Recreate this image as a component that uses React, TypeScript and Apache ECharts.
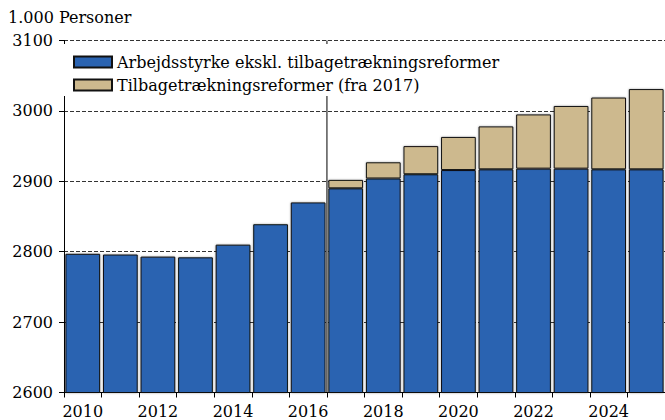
import React, { useEffect, useRef } from "react";
import * as echarts from "echarts";

const categories = ["2010", "2011", "2012", "2013", "2014", "2015", "2016", "2017", "2018", "2019", "2020", "2021", "2022", "2023", "2024", "2025"];
const laborForce = [2797, 2796, 2793, 2792, 2810, 2839, 2870, 2890, 2904, 2910, 2916, 2917, 2918, 2918, 2917, 2917];
const reformEffect = [null, null, null, null, null, null, null, 12, 23, 40, 47, 61, 77, 89, 102, 114];
const seriesNames = ["Arbejdsstyrke ekskl. tilbagetrækningsreformer", "Tilbagetrækningsreformer (fra 2017)"];
const yTicks = { min: 2600, max: 3100, interval: 100 };
const dividerIndex = categories.indexOf("2017");
const unitLabel = "1.000 Personer";

const FONT = "DejaVu Serif";
const FS = 16;

export default function App() {
  const ref = useRef<HTMLDivElement>(null);
  useEffect(() => {
    if (!ref.current) return;
    const chart = echarts.init(ref.current, null, { renderer: "svg" });
    const barShadow = { shadowBlur: 2, shadowColor: "rgba(0,0,0,0.35)" };
    chart.setOption({
      animation: false,
      backgroundColor: "#fff",
      textStyle: { fontFamily: FONT, color: "#000" },
      title: {
        text: unitLabel,
        left: 8,
        top: 9,
        padding: 0,
        textStyle: { fontFamily: FONT, fontSize: FS, fontWeight: "normal", color: "#000" },
      },
      legend: {
        data: seriesNames,
        orient: "vertical",
        left: 63,
        top: 44,
        padding: [10, 10, 3, 10],
        backgroundColor: "#fff",
        icon: "rect",
        itemWidth: 38,
        itemHeight: 11,
        itemGap: 7,
        textStyle: { fontFamily: FONT, fontSize: FS, color: "#000" },
      },
      grid: { left: 64, width: 604.5, top: 40.5, bottom: 27.5, containLabel: false },
      xAxis: [
        {
          type: "category",
          data: categories,
          boundaryGap: true,
          axisLine: { show: true, lineStyle: { color: "#000", width: 1 } },
          axisTick: { show: true, interval: 0, length: 5, inside: false, lineStyle: { color: "#000" } },
          axisLabel: { interval: 1, margin: 11, fontFamily: FONT, fontSize: FS, color: "#000" },
          splitLine: { show: false },
        },
        {
          type: "value",
          min: 0,
          max: categories.length,
          show: false,
        },
      ],
      yAxis: {
        type: "value",
        min: yTicks.min,
        max: yTicks.max,
        interval: yTicks.interval,
        axisLine: { show: true, lineStyle: { color: "#000", width: 1 } },
        axisTick: { show: true, length: 5, lineStyle: { color: "#000" } },
        axisLabel: { margin: 11, fontFamily: FONT, fontSize: FS, color: "#000", formatter: (v: number) => String(v) },
        splitLine: { show: true, lineStyle: { color: "#333", type: [4, 2], width: 1 } },
      },
      series: [
        {
          name: seriesNames[0],
          type: "bar",
          stack: "total",
          data: laborForce,
          barCategoryGap: "7.5%",
          itemStyle: { color: "#2A63B1", borderColor: "#111", borderWidth: 1, ...barShadow },
          z: 3,
        },
        {
          name: seriesNames[1],
          type: "bar",
          stack: "total",
          data: reformEffect,
          barCategoryGap: "7.5%",
          itemStyle: { color: "#CDB98E", borderColor: "#111", borderWidth: 1, ...barShadow },
          z: 3,
        },
        {
          type: "line",
          xAxisIndex: 1,
          data: [
            [dividerIndex, yTicks.min],
            [dividerIndex, yTicks.max],
          ],
          symbol: "none",
          lineStyle: { color: "#000", width: 1 },
          silent: true,
          z: 2,
        },
      ],
    });
    return () => chart.dispose();
  }, []);
  return <div ref={ref} style={{ position: "fixed", left: 0, top: 0, width: 665, height: 420 }} />;
}
